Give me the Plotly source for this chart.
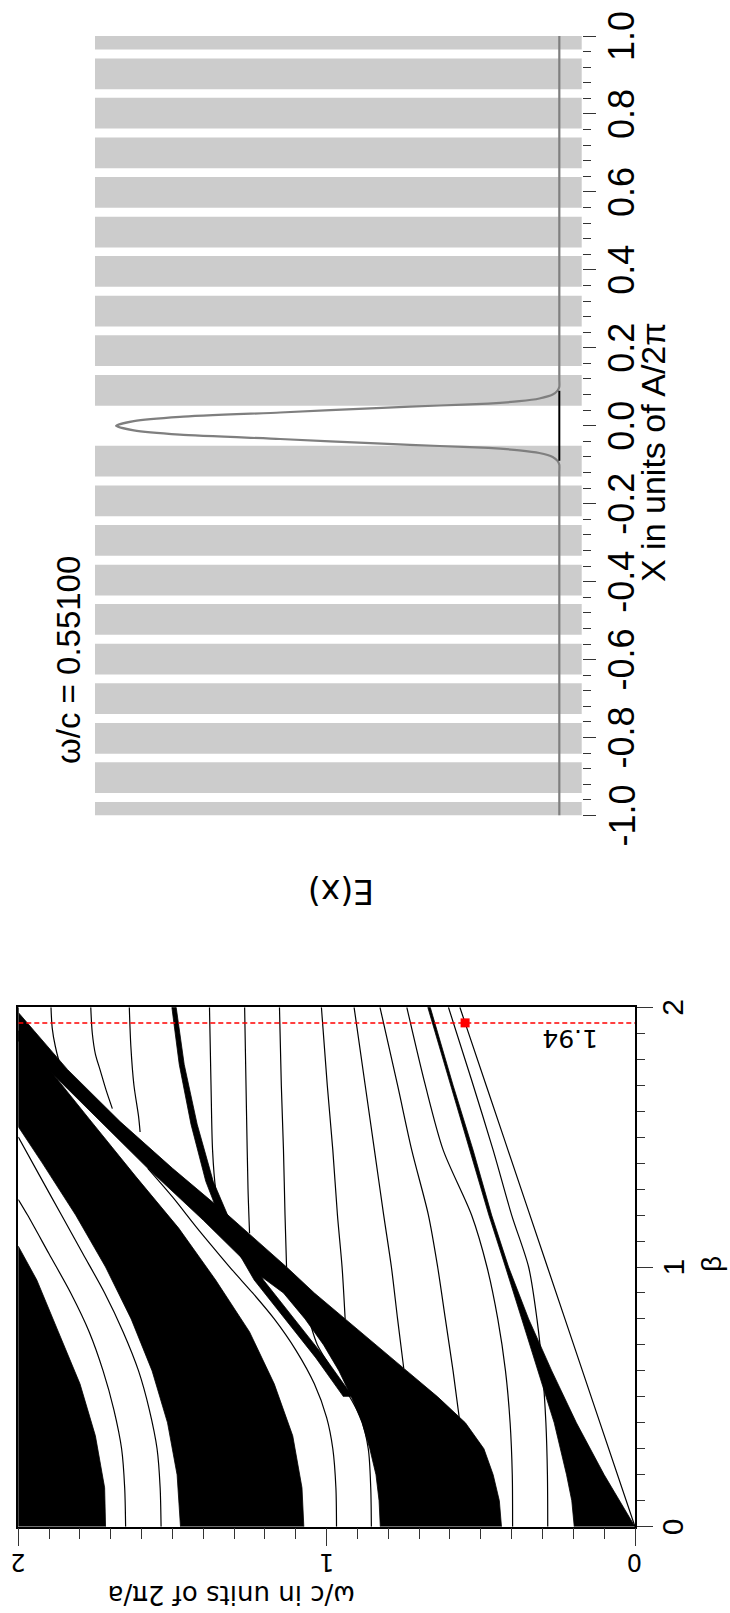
import plotly.graph_objects as go

W, H = 730, 1613

def px(x):
    return x / W

def py(y):
    return 1 - y / H

# ---- defect-mode profile panel -------------------------------------------
layer_centers = [0.091, 0.193, 0.294, 0.396, 0.497, 0.599, 0.700, 0.802, 0.903, 1.005,
                 -0.091, -0.193, -0.294, -0.396, -0.497, -0.599, -0.700, -0.802, -0.903, -1.005]
layer_width = 0.0788

field_x = [-1.0, -0.3, -0.12, -0.1, -0.09, -0.08, -0.07, -0.063, -0.057, -0.052, -0.046,
           -0.034, -0.023, -0.012, 0.0, 0.012, 0.023, 0.034, 0.046, 0.052, 0.057, 0.063,
           0.07, 0.08, 0.09, 0.1, 0.12, 0.3, 1.0]
field_e = [0.0, 0.0, 0.0, 0.0, 0.004, 0.015, 0.045, 0.09, 0.16, 0.27, 0.40,
           0.63, 0.856, 0.96, 1.0, 0.96, 0.856, 0.63, 0.40, 0.27, 0.16, 0.09,
           0.045, 0.015, 0.004, 0.0, 0.0, 0.0, 0.0]
core_x = [-0.09, 0.09]
core_e = [0.0, 0.0]

x_ticks = [-1.0, -0.8, -0.6, -0.4, -0.2, 0.0, 0.2, 0.4, 0.6, 0.8, 1.0]
x_ticktext = ["-1.0", "-0.8", "-0.6", "-0.4", "-0.2", "0.0", "0.2", "0.4", "0.6", "0.8", "1.0"]

# ---- band diagram panel ---------------------------------------------------
beta_sel = 1.94
omega_sel = 0.551
omega_ticks = [0, 1, 2]
beta_ticks = [0, 1, 2]

# filled bands, outlines as (omega, beta)
band_A = dict(
    omega=[0.0, 0.1, 0.19, 0.27, 0.345, 0.41, 0.465, 0.525, 0.59, 0.664,
           0.672, 0.598, 0.534, 0.474, 0.42, 0.368, 0.315, 0.262, 0.222, 0.205, 0.197],
    beta=[0.0, 0.2, 0.4, 0.6, 0.8, 1.0, 1.2, 1.45, 1.7, 2.0,
          2.0, 1.7, 1.45, 1.2, 1.0, 0.8, 0.6, 0.4, 0.2, 0.1, 0.0])
band_B = dict(
    omega=[0.433, 0.44, 0.46, 0.49, 0.55, 0.64, 0.74, 0.84, 0.94, 1.04, 1.13, 1.32, 1.5, 1.67, 1.84, 2.0,
           2.0, 2.0, 1.92, 1.75, 1.58, 1.4, 1.22, 1.14, 1.07, 1.01, 0.96, 0.92, 0.885, 0.86, 0.84, 0.83, 0.826],
    beta=[0.0, 0.1, 0.2, 0.3, 0.4, 0.5, 0.6, 0.7, 0.8, 0.9, 1.0, 1.2, 1.38, 1.56, 1.76, 1.98,
          2.0, 1.87, 1.78, 1.58, 1.38, 1.18, 0.97, 0.9, 0.8, 0.7, 0.6, 0.5, 0.4, 0.3, 0.2, 0.1, 0.0])
band_C = dict(
    omega=[1.074, 1.08, 1.11, 1.17, 1.25, 1.36, 1.48, 1.62, 1.77, 1.9, 2.0,
           2.0, 1.922, 1.814, 1.717, 1.634, 1.566, 1.516, 1.485, 1.474],
    beta=[0.0, 0.15, 0.35, 0.55, 0.75, 0.95, 1.15, 1.35, 1.57, 1.76, 1.91,
          1.54, 1.4, 1.2, 1.0, 0.8, 0.6, 0.4, 0.2, 0.0])
band_D = dict(
    omega=[1.717, 1.72, 1.75, 1.8, 1.87, 1.94, 2.0, 2.0],
    beta=[0.0, 0.15, 0.35, 0.55, 0.75, 0.95, 1.08, 0.0])
band_T = dict(
    omega=[0.915, 1.005, 1.105, 1.205, 1.305, 1.368, 1.42, 1.462, 1.488,
           1.502, 1.478, 1.44, 1.392, 1.335, 1.235, 1.135, 1.035, 0.945],
    beta=[0.5, 0.65, 0.8, 0.95, 1.155, 1.33, 1.55, 1.78, 2.0,
          2.0, 1.78, 1.55, 1.33, 1.155, 0.95, 0.8, 0.65, 0.5])
bands = [band_A, band_B, band_C, band_D, band_T]

# single mode curves, (omega, beta)
mode_lines = [
    dict(omega=[0.0, 0.142, 0.284, 0.426, 0.551, 0.568], beta=[0.0, 0.5, 1.0, 1.5, 1.94, 2.0]),
    dict(omega=[0.283, 0.284, 0.289, 0.3, 0.318, 0.345, 0.40, 0.46, 0.53, 0.605],
         beta=[0.0, 0.2, 0.4, 0.6, 0.8, 1.0, 1.2, 1.45, 1.72, 2.0]),
    dict(omega=[0.397, 0.398, 0.405, 0.42, 0.445, 0.48, 0.53, 0.622, 0.68, 0.74],
         beta=[0.0, 0.2, 0.4, 0.6, 0.8, 1.0, 1.2, 1.45, 1.7, 2.0]),
    dict(omega=[0.855, 0.857, 0.865, 0.89, 0.935, 0.985, 1.03, 1.05],
         beta=[0.0, 0.15, 0.3, 0.42, 0.52, 0.61, 0.7, 0.77]),
    dict(omega=[0.968, 0.97, 0.98, 1.0, 1.04, 1.1, 1.17, 1.24, 1.3, 1.35, 1.42, 1.5, 1.58],
         beta=[0.0, 0.15, 0.3, 0.42, 0.55, 0.68, 0.8, 0.9, 0.98, 1.05, 1.15, 1.27, 1.38]),
    dict(omega=[1.537, 1.54, 1.55, 1.575, 1.61, 1.66, 1.72, 1.79, 1.86, 1.93, 2.0],
         beta=[0.0, 0.15, 0.3, 0.45, 0.6, 0.75, 0.9, 1.05, 1.2, 1.35, 1.5]),
    dict(omega=[1.652, 1.655, 1.665, 1.69, 1.725, 1.77, 1.83, 1.9, 1.97, 2.0],
         beta=[0.0, 0.15, 0.3, 0.45, 0.6, 0.75, 0.9, 1.05, 1.2, 1.26]),
    dict(omega=[0.57, 0.59, 0.615, 0.64, 0.67, 0.724, 0.77, 0.827],
         beta=[0.42, 0.6, 0.8, 1.0, 1.2, 1.45, 1.7, 2.0]),
    dict(omega=[0.75, 0.77, 0.79, 0.815, 0.845, 0.875, 0.911],
         beta=[0.61, 0.8, 1.0, 1.2, 1.45, 1.7, 2.0]),
    dict(omega=[0.94, 0.95, 0.965, 0.98, 0.998, 1.017], beta=[0.8, 1.0, 1.2, 1.45, 1.7, 2.0]),
    dict(omega=[1.13, 1.135, 1.14, 1.147, 1.153], beta=[1.0, 1.2, 1.45, 1.7, 2.0]),
    dict(omega=[1.25, 1.255, 1.26, 1.266], beta=[1.13, 1.3, 1.6, 2.0]),
    dict(omega=[1.35, 1.36, 1.37, 1.375, 1.38], beta=[1.24, 1.3, 1.45, 1.7, 2.0]),
    dict(omega=[1.605, 1.61, 1.625, 1.635, 1.64], beta=[1.52, 1.58, 1.7, 1.85, 2.0]),
    dict(omega=[1.695, 1.715, 1.735, 1.75, 1.76, 1.765], beta=[1.61, 1.68, 1.76, 1.82, 1.9, 2.0]),
    dict(omega=[1.855, 1.862, 1.88, 1.89, 1.894], beta=[1.75, 1.77, 1.85, 1.92, 2.0]),
]

fig = go.Figure()

fig.add_trace(go.Scatter(x=field_e, y=field_x, mode="lines",
                         line=dict(color="#7f7f7f", width=2.2, shape="spline", smoothing=0.6),
                         xaxis="x", yaxis="y", showlegend=False, hoverinfo="skip"))
fig.add_trace(go.Scatter(x=core_e, y=core_x, mode="lines", line=dict(color="black", width=2),
                         xaxis="x", yaxis="y", showlegend=False, hoverinfo="skip"))

for b in bands:
    fig.add_trace(go.Scatter(x=b["omega"], y=b["beta"], mode="lines", fill="toself", fillcolor="black",
                             line=dict(color="black", width=0.8), xaxis="x2", yaxis="y2",
                             showlegend=False, hoverinfo="skip"))
for m in mode_lines:
    fig.add_trace(go.Scatter(x=m["omega"], y=m["beta"], mode="lines",
                             line=dict(color="black", width=1.2, shape="spline", smoothing=0.8),
                             xaxis="x2", yaxis="y2", showlegend=False, hoverinfo="skip"))

fig.add_trace(go.Scatter(x=[2.0, 0.0], y=[beta_sel, beta_sel], mode="lines",
                         line=dict(color="#ff0000", width=1.5, dash="5px,3px"),
                         xaxis="x2", yaxis="y2", showlegend=False, hoverinfo="skip"))
fig.add_trace(go.Scatter(x=[omega_sel], y=[beta_sel], mode="markers",
                         marker=dict(color="#ff0000", size=9, symbol="square"),
                         xaxis="x2", yaxis="y2", showlegend=False, hoverinfo="skip"))

shapes = []
for c in layer_centers:
    y0 = max(-1.0, c - layer_width / 2)
    y1 = min(1.0, c + layer_width / 2)
    if y1 > y0:
        shapes.append(dict(type="rect", xref="x domain", x0=0, x1=1, yref="y", y0=y0, y1=y1,
                           fillcolor="#cccccc", line=dict(width=0), layer="below"))

sans = "Liberation Sans, Arial, Helvetica, sans-serif"
wide = "DejaVu Sans, Verdana, sans-serif"

annotations = [
    dict(text="ω/c in units of 2π/a", x=px(232), y=py(1595), xref="paper", yref="paper",
         textangle=180, font=dict(family=wide, size=26)),
    dict(text="β", x=px(711), y=py(1264), xref="paper", yref="paper",
         textangle=-90, font=dict(family=sans, size=28)),
    dict(text="X in units of A/2π", x=px(653), y=py(452), xref="paper", yref="paper",
         textangle=-90, font=dict(family=sans, size=34)),
    dict(text="ω/c = 0.55100", x=px(68), y=py(660), xref="paper", yref="paper",
         textangle=-90, font=dict(family=sans, size=33)),
    dict(text="E(x)", x=px(341), y=py(892), xref="paper", yref="paper",
         textangle=180, font=dict(family=wide, size=33)),
    dict(text="1.94", x=px(570), y=py(1039), xref="paper", yref="paper",
         textangle=180, font=dict(family=wide, size=25)),
]
for v, t in zip(x_ticks, x_ticktext):
    annotations.append(dict(text=t, x=px(622), y=v, xref="paper", yref="y",
                            textangle=-90, font=dict(family=sans, size=36)))
for v in omega_ticks:
    annotations.append(dict(text=str(v), x=v, y=py(1562.5), xref="x2", yref="paper",
                            textangle=180, font=dict(family=wide, size=24)))
for v in beta_ticks:
    annotations.append(dict(text=str(v), x=px(672.5), y=v, xref="paper", yref="y2",
                            textangle=-90, font=dict(family=sans, size=30)))
for a in annotations:
    a.update(showarrow=False, xanchor="center", yanchor="middle")
    a["font"]["color"] = "black"

tick_style = dict(ticks="outside", tickwidth=1.3, tickcolor="#333333", showticklabels=False,
                  showgrid=False, zeroline=False)

fig.update_layout(
    width=W, height=H, margin=dict(l=0, r=0, t=0, b=0),
    paper_bgcolor="white", plot_bgcolor="white",
    shapes=shapes, annotations=annotations,
    xaxis=dict(domain=[px(95), px(581.7)], range=[1.0476, -0.0505], visible=False, anchor="y"),
    yaxis=dict(domain=[py(815.5), py(36)], range=[-1, 1], side="right", anchor="x", showline=False,
               tickmode="array", tickvals=x_ticks, ticklen=13,
               minor=dict(dtick=0.04, tick0=0, ticks="outside", ticklen=8, tickwidth=1.3, tickcolor="#333333"),
               **tick_style),
    xaxis2=dict(domain=[px(18.3), px(635)], range=[2, 0], anchor="y2",
                showline=True, linecolor="black", linewidth=1.5, mirror=True,
                tickmode="array", tickvals=omega_ticks, ticklen=18,
                minor=dict(dtick=0.1, tick0=0, ticks="outside", ticklen=11, tickwidth=1.3, tickcolor="#333333"),
                **tick_style),
    yaxis2=dict(domain=[py(1526.7), py(1007.3)], range=[0, 2], side="right", anchor="x2",
                showline=True, linecolor="black", linewidth=1.5, mirror=True,
                tickmode="array", tickvals=beta_ticks, ticklen=16,
                minor=dict(dtick=0.1, tick0=0, ticks="outside", ticklen=8, tickwidth=1.3, tickcolor="#333333"),
                **tick_style),
)

fig.write_html("out.html")
